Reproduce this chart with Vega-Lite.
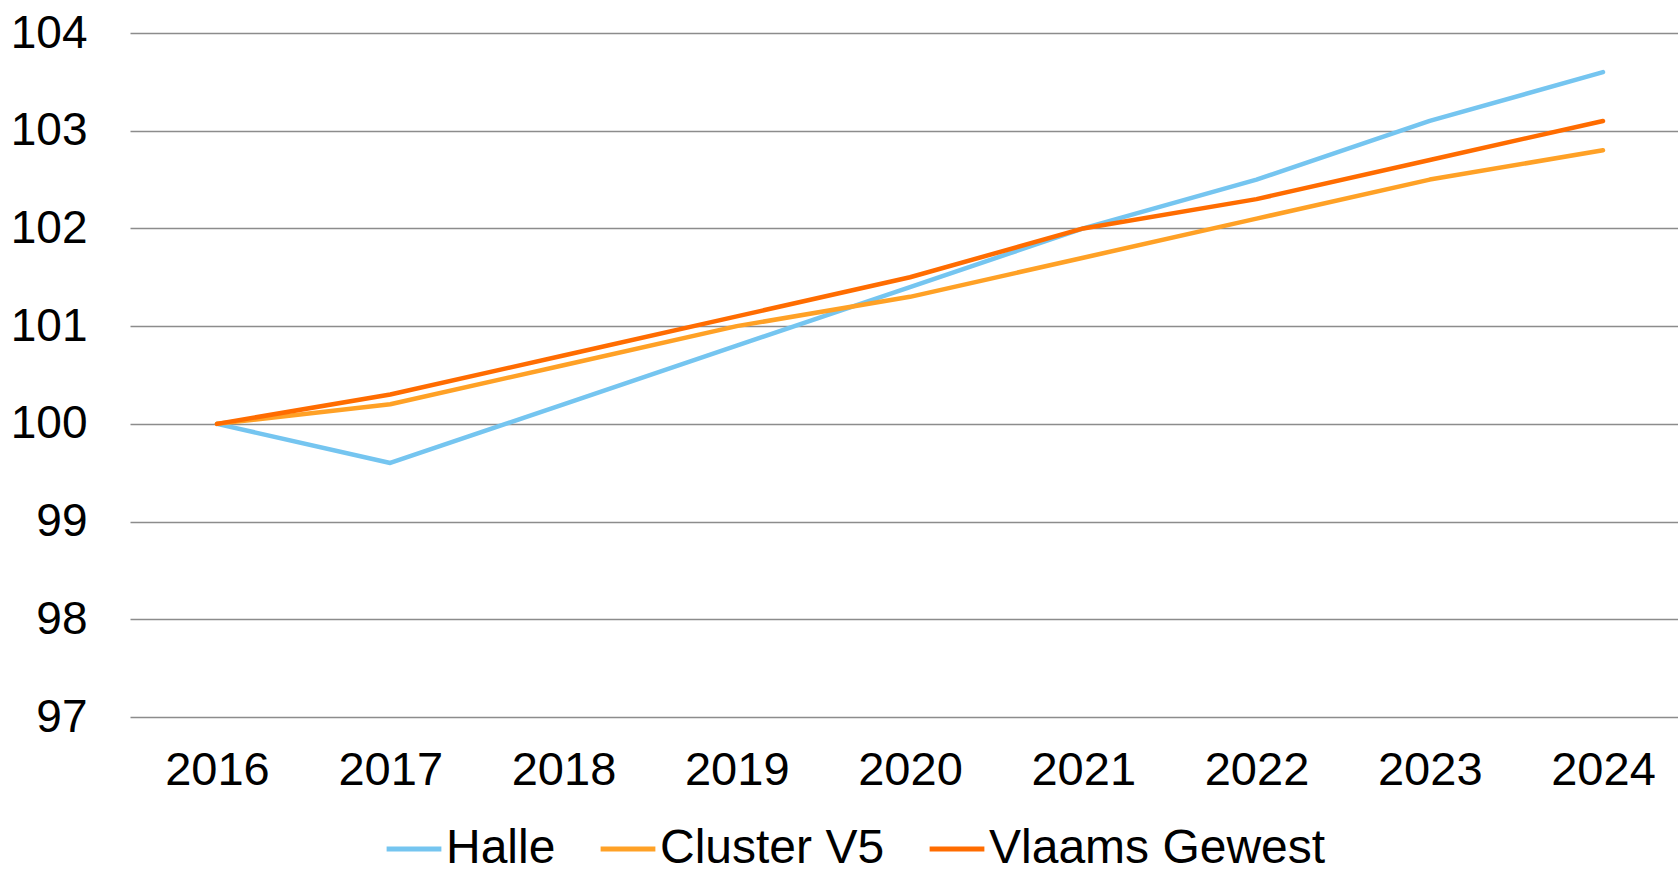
{
  "$schema": "https://vega.github.io/schema/vega-lite/v6.json",
  "autosize": "none",
  "width": 1548,
  "height": 684,
  "padding": {"left": 130, "top": 33, "right": 0, "bottom": 152},
  "background": "white",
  "config": {
    "view": {"stroke": null},
    "font": "Liberation Sans"
  },
  "data": {
    "values": [
      {"jaar": "2016", "reeks": "Halle", "waarde": 100},
      {"jaar": "2017", "reeks": "Halle", "waarde": 99.6},
      {"jaar": "2018", "reeks": "Halle", "waarde": 100.2},
      {"jaar": "2019", "reeks": "Halle", "waarde": 100.8},
      {"jaar": "2020", "reeks": "Halle", "waarde": 101.4},
      {"jaar": "2021", "reeks": "Halle", "waarde": 102.0},
      {"jaar": "2022", "reeks": "Halle", "waarde": 102.5},
      {"jaar": "2023", "reeks": "Halle", "waarde": 103.1},
      {"jaar": "2024", "reeks": "Halle", "waarde": 103.6},
      {"jaar": "2016", "reeks": "Cluster V5", "waarde": 100},
      {"jaar": "2017", "reeks": "Cluster V5", "waarde": 100.2},
      {"jaar": "2018", "reeks": "Cluster V5", "waarde": 100.6},
      {"jaar": "2019", "reeks": "Cluster V5", "waarde": 101.0},
      {"jaar": "2020", "reeks": "Cluster V5", "waarde": 101.3},
      {"jaar": "2021", "reeks": "Cluster V5", "waarde": 101.7},
      {"jaar": "2022", "reeks": "Cluster V5", "waarde": 102.1},
      {"jaar": "2023", "reeks": "Cluster V5", "waarde": 102.5},
      {"jaar": "2024", "reeks": "Cluster V5", "waarde": 102.8},
      {"jaar": "2016", "reeks": "Vlaams Gewest", "waarde": 100},
      {"jaar": "2017", "reeks": "Vlaams Gewest", "waarde": 100.3},
      {"jaar": "2018", "reeks": "Vlaams Gewest", "waarde": 100.7},
      {"jaar": "2019", "reeks": "Vlaams Gewest", "waarde": 101.1},
      {"jaar": "2020", "reeks": "Vlaams Gewest", "waarde": 101.5},
      {"jaar": "2021", "reeks": "Vlaams Gewest", "waarde": 102.0},
      {"jaar": "2022", "reeks": "Vlaams Gewest", "waarde": 102.3},
      {"jaar": "2023", "reeks": "Vlaams Gewest", "waarde": 102.7},
      {"jaar": "2024", "reeks": "Vlaams Gewest", "waarde": 103.1}
    ]
  },
  "mark": {"type": "line", "strokeWidth": 4.5, "strokeCap": "round", "strokeJoin": "round"},
  "encoding": {
    "x": {
      "field": "jaar",
      "type": "ordinal",
      "scale": {"type": "point", "padding": 0.4675, "align": 0.537},
      "axis": {
        "title": null,
        "labelAngle": 0,
        "domain": false,
        "ticks": false,
        "grid": false,
        "labelFontSize": 47,
        "labelColor": "#000000",
        "labelPadding": 30
      }
    },
    "y": {
      "field": "waarde",
      "type": "quantitative",
      "scale": {"domain": [97, 104], "nice": false, "zero": false},
      "axis": {
        "title": null,
        "values": [97, 98, 99, 100, 101, 102, 103, 104],
        "domain": false,
        "ticks": false,
        "grid": true,
        "gridColor": "#8c8c8c",
        "gridWidth": 1.5,
        "labelFontSize": 46,
        "labelColor": "#000000",
        "labelPadding": 43
      }
    },
    "color": {
      "field": "reeks",
      "type": "nominal",
      "sort": ["Halle", "Cluster V5", "Vlaams Gewest"],
      "scale": {
        "domain": ["Halle", "Cluster V5", "Vlaams Gewest"],
        "range": ["#75C5F0", "#FFA126", "#FF6C00"]
      },
      "legend": {
        "title": null,
        "orient": "none",
        "direction": "horizontal",
        "legendX": 254,
        "legendY": 786,
        "symbolType": "stroke",
        "symbolStrokeWidth": 5,
        "symbolSize": 3000,
        "labelFontSize": 48,
        "labelColor": "#000000",
        "labelOffset": 2,
        "labelLimit": 600,
        "columnPadding": 34
      }
    }
  }
}
